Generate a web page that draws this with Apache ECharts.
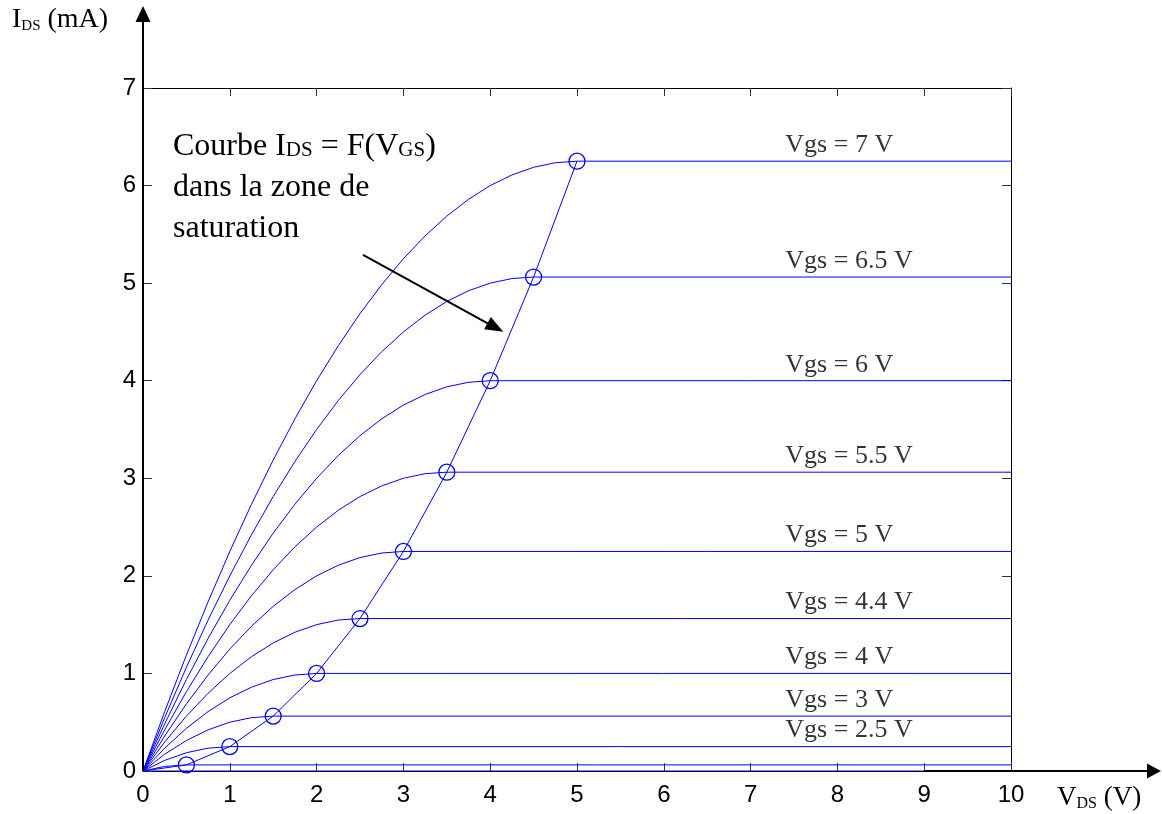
<!DOCTYPE html>
<html>
<head>
<meta charset="utf-8">
<script src="https://cdn.jsdelivr.net/npm/echarts@6/dist/echarts.min.js"></script>
<style>
  html, body { margin: 0; padding: 0; background: #ffffff; }
  #chart { width: 1162px; height: 814px; }
</style>
</head>
<body>
<div id="chart"></div>
<script>
// V_DS sampling grid of the linear region (V); flat segments run out to VDS_MAX
const VDS = [0, 0.25, 0.5, 0.75, 1, 1.25, 1.5, 1.75, 2, 2.25, 2.5, 2.75, 3, 3.25, 3.5, 3.75, 4, 4.25, 4.5, 4.75, 5];
const VDS_MAX = 10;

// I_DS (mA) for each gate voltage, read on the VDS grid up to the saturation knee
const ID_ZERO = [0];
const ID_LOW = [0, 0.047, 0.0625];
const ID_2V5 = [0, 0.109, 0.1875, 0.234, 0.25];
const ID_3V = [0, 0.172, 0.3125, 0.422, 0.5, 0.547, 0.5625];
const ID_4V = [0, 0.234, 0.4375, 0.609, 0.75, 0.859, 0.9375, 0.984, 1];
const ID_4V4 = [0, 0.297, 0.5625, 0.797, 1.0, 1.172, 1.3125, 1.422, 1.5, 1.547, 1.5625];
const ID_5V = [0, 0.359, 0.6875, 0.984, 1.25, 1.484, 1.6875, 1.859, 2, 2.109, 2.1875, 2.234, 2.25];
const ID_5V5 = [0, 0.422, 0.8125, 1.172, 1.5, 1.797, 2.0625, 2.297, 2.5, 2.672, 2.8125, 2.922, 3.0, 3.047, 3.0625];
const ID_6V = [0, 0.484, 0.9375, 1.359, 1.75, 2.109, 2.4375, 2.734, 3, 3.234, 3.4375, 3.609, 3.75, 3.859, 3.9375, 3.984, 4];
const ID_6V5 = [0, 0.547, 1.0625, 1.547, 2.0, 2.422, 2.8125, 3.172, 3.5, 3.797, 4.0625, 4.297, 4.5, 4.672, 4.8125, 4.922, 5.0, 5.047, 5.0625];
const ID_7V = [0, 0.609, 1.1875, 1.734, 2.25, 2.734, 3.1875, 3.609, 4.0, 4.359, 4.6875, 4.984, 5.25, 5.484, 5.6875, 5.859, 6.0, 6.109, 6.1875, 6.234, 6.25];

// saturation locus I_DS = F(V_GS): knee points (circles)
const VSAT = [0, 0.5, 1, 1.5, 2, 2.5, 3, 3.5, 4, 4.5, 5];
const ISAT = [0, 0.0625, 0.25, 0.5625, 1, 1.5625, 2.25, 3.0625, 4, 5.0625, 6.25];

// curve labels, matched to the labelled curves
const LABEL_TEXT = ['Vgs = 2.5 V', 'Vgs = 3 V', 'Vgs = 4 V', 'Vgs = 4.4 V', 'Vgs = 5 V', 'Vgs = 5.5 V', 'Vgs = 6 V', 'Vgs = 6.5 V', 'Vgs = 7 V'];
const LABELLED = [ID_2V5, ID_3V, ID_4V, ID_4V4, ID_5V, ID_5V5, ID_6V, ID_6V5, ID_7V];
const ALL_CURVES = [ID_ZERO, ID_LOW].concat(LABELLED);

const X_MIN = 0, X_MAX = 10, Y_MIN = 0, Y_MAX = 7;

const INK = '#000000';
const BLUE = '#0000ff';
const SERIF = '"Liberation Serif", "Times New Roman", serif';
const SANS = '"Liberation Sans", Arial, sans-serif';
const LABEL_X = 7.4;

const chart = echarts.init(document.getElementById('chart'), null, { renderer: 'canvas' });

function curveData(ids) {
  const pts = ids.map((v, i) => [VDS[i], v]);
  pts.push([VDS_MAX, ids[ids.length - 1]]);
  return pts;
}

function xAxisDef(pos, labels) {
  return {
    type: 'value', position: pos, min: X_MIN, max: X_MAX, interval: 1,
    axisLine: { show: true, onZero: false, lineStyle: { color: INK, width: 1 } },
    axisTick: { show: true, inside: true, length: 8, lineStyle: { color: '#333' } },
    axisLabel: { show: labels, color: INK, fontFamily: SANS, fontSize: 24, margin: 12 },
    splitLine: { show: false },
  };
}

function yAxisDef(pos, labels) {
  return {
    type: 'value', position: pos, min: Y_MIN, max: Y_MAX, interval: 1,
    axisLine: { show: true, onZero: false, lineStyle: { color: INK, width: 1 } },
    axisTick: { show: true, inside: true, length: 9, lineStyle: { color: '#333' } },
    axisLabel: { show: labels, color: INK, fontFamily: SANS, fontSize: 24, margin: 7 },
    splitLine: { show: false },
  };
}

const series = ALL_CURVES.map((ids) => ({
  type: 'line',
  data: curveData(ids),
  symbol: 'none',
  lineStyle: { color: BLUE, width: 1 },
  silent: true,
}));

series.push({
  type: 'line',
  data: VSAT.map((v, i) => [v, ISAT[i]]),
  symbol: 'circle',
  showSymbol: true,
  symbolSize: (v, p) => (p.dataIndex === 0 ? 0 : 16),
  lineStyle: { color: BLUE, width: 1 },
  itemStyle: { color: 'rgba(0,0,0,0)', borderColor: BLUE, borderWidth: 1.3 },
  silent: true,
  z: 3,
});

series.push({
  type: 'scatter',
  data: LABELLED.map((ids) => [LABEL_X, ids[ids.length - 1]]),
  symbolSize: 0,
  silent: true,
  label: {
    show: true,
    position: [0, 0],
    align: 'left',
    verticalAlign: 'bottom',
    offset: [0, -3],
    color: INK,
    fontFamily: SERIF,
    fontSize: 26,
    formatter: (p) => LABEL_TEXT[p.dataIndex],
  },
  markLine: {
    silent: true,
    symbol: ['none', 'triangle'],
    symbolSize: [14, 18],
    lineStyle: { color: INK, width: 2, type: 'solid' },
    label: { show: false },
    data: [[{ coord: [2.535, 5.29] }, { coord: [4.06, 4.545] }]],
  },
});

chart.setOption({
  animation: false,
  backgroundColor: '#ffffff',
  grid: { left: 143, right: 151, top: 88, bottom: 43, containLabel: false },
  xAxis: [xAxisDef('bottom', true), xAxisDef('top', false)],
  yAxis: [yAxisDef('left', true), yAxisDef('right', false)],
  series,
});

// axis arrows, titles and the annotation, placed from the axis scales
const origin = chart.convertToPixel({ xAxisIndex: 0, yAxisIndex: 0 }, [0, 0]);
const x9 = chart.convertToPixel({ xAxisIndex: 0 }, 9);
const topLeft = chart.convertToPixel({ xAxisIndex: 0, yAxisIndex: 0 }, [0, Y_MAX]);
const ox = origin[0], oy = origin[1];

const subStyle = (size, pad) => ({ fontFamily: SERIF, fontSize: size, color: INK, padding: [pad, 0, 0, 0], verticalAlign: 'middle' });
const mainStyle = (size) => ({ fontFamily: SERIF, fontSize: size, color: INK, verticalAlign: 'middle' });

chart.setOption({
  graphic: [
    { type: 'line', z: 100, shape: { x1: ox, y1: oy, x2: ox, y2: 20 }, style: { stroke: INK, lineWidth: 2 } },
    { type: 'polygon', z: 100, shape: { points: [[ox - 7.5, 22], [ox + 7.5, 22], [ox, 6]] }, style: { fill: INK } },
    { type: 'line', z: 100, shape: { x1: x9, y1: oy, x2: 1148, y2: oy }, style: { stroke: INK, lineWidth: 2 } },
    { type: 'polygon', z: 100, shape: { points: [[1147, oy - 7.5], [1147, oy + 7.5], [1161, oy]] }, style: { fill: INK } },
    {
      type: 'text', z: 100, left: 12, top: 6,
      style: {
        text: '{m|I}{s|DS}{m| (mA)}',
        rich: { m: mainStyle(28), s: subStyle(15, 12) },
      },
    },
    {
      type: 'text', z: 100, left: 1057, top: 784,
      style: {
        text: '{m|V}{s|DS}{m| (V)}',
        rich: { m: mainStyle(27), s: subStyle(16, 12) },
      },
    },
    {
      type: 'text', z: 100, left: topLeft[0] + 30, top: topLeft[1] + 43,
      style: {
        text: '{m|Courbe I}{s|DS}{m| = F(V}{s|GS}{m|)}\n{m|dans la zone de}\n{m|saturation}',
        rich: {
          m: Object.assign(mainStyle(32), { lineHeight: 41 }),
          s: Object.assign(subStyle(21, 7), { lineHeight: 41 }),
        },
      },
    },
  ],
});
</script>
</body>
</html>
